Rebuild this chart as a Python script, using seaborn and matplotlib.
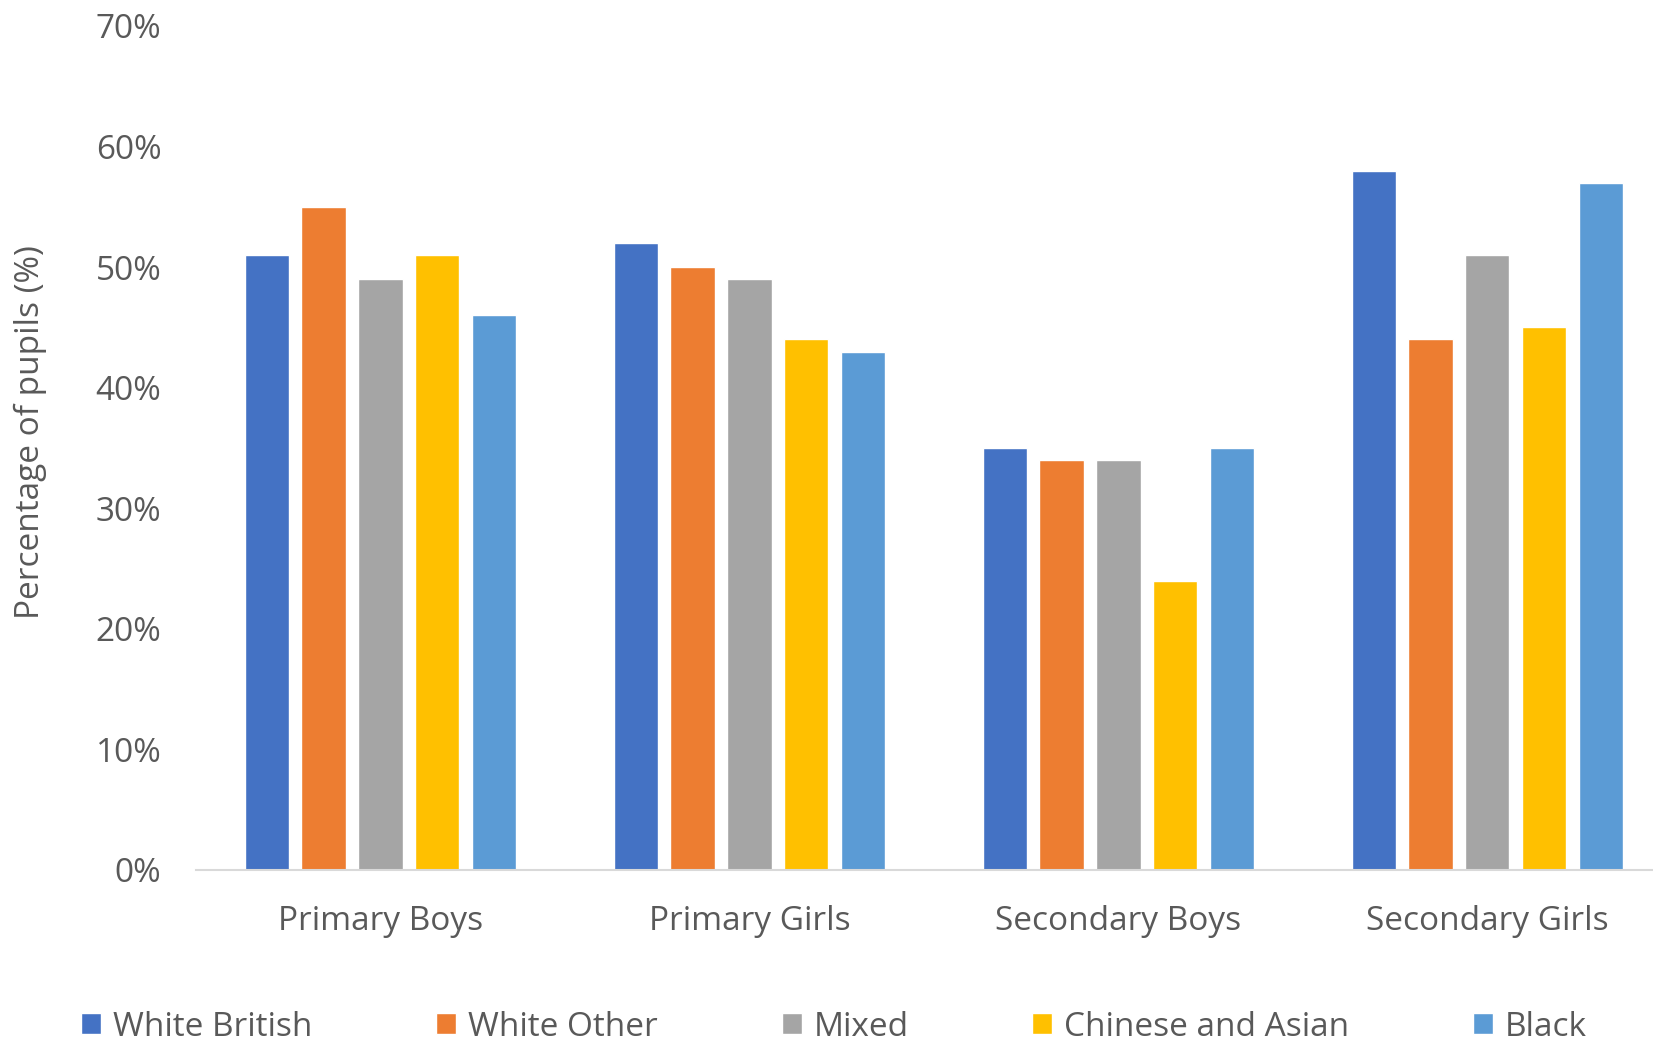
import matplotlib
matplotlib.use("Agg")
import matplotlib.pyplot as plt
import seaborn as sns
import pandas as pd
from matplotlib.ticker import FuncFormatter

# Share of pupils by school phase / sex and ethnic group
categories = ["Primary Boys", "Primary Girls", "Secondary Boys", "Secondary Girls"]
groups = ["White British", "White Other", "Mixed", "Chinese and Asian", "Black"]
white_british = [51, 52, 35, 58]
white_other = [55, 50, 34, 44]
mixed = [49, 49, 34, 51]
chinese_asian = [51, 44, 24, 45]
black = [46, 43, 35, 57]
yticks = [0, 10, 20, 30, 40, 50, 60, 70]

series = [white_british, white_other, mixed, chinese_asian, black]
rows = []
for g, vals in zip(groups, series):
    for c, v in zip(categories, vals):
        rows.append({"Category": c, "Group": g, "Value": v})
df = pd.DataFrame(rows)

palette = ["#4472C4", "#ED7D31", "#A5A5A5", "#FFC000", "#5B9BD5"]
text_color = "#595959"
fs = 24

sns.set_theme(style="white")
plt.rcParams["font.family"] = ["Open Sans", "DejaVu Sans"]

W, H = 1653, 1044
fig = plt.figure(figsize=(W / 100, H / 100), dpi=100)
ax = fig.add_axes([196 / W, 1 - 870 / H, 1 - 196 / W, (870 - 26) / H])

sns.barplot(data=df, x="Category", y="Value", hue="Group", hue_order=groups,
            order=categories, palette=palette, width=0.77, gap=0.22,
            saturation=1, ax=ax, legend=True)

ax.set_xlim(-0.5, 3.449)
ax.set_ylim(0, 70)
ax.set_yticks(yticks)
ax.yaxis.set_major_formatter(FuncFormatter(lambda v, p: f"{int(v)}%"))
ax.set_xlabel("")
ax.set_ylabel("Percentage of pupils (%)", fontsize=fs, color=text_color)
ax.yaxis.set_label_coords(-0.102, 0.519)
ax.tick_params(axis="both", length=0, labelsize=fs, colors=text_color)
ax.tick_params(axis="y", pad=25)
ax.tick_params(axis="x", pad=25)

for s in ["top", "right", "left"]:
    ax.spines[s].set_visible(False)
ax.spines["bottom"].set_color("#D9D9D9")
ax.spines["bottom"].set_linewidth(1.5)

handles, labels = ax.get_legend_handles_labels()
ax.get_legend().remove()
fig.legend(handles, labels, loc="center", bbox_to_anchor=(834 / W, 1 - 1027 / H),
           ncol=5, frameon=False, fontsize=fs, labelcolor=text_color,
           handlelength=0.6, handleheight=0.6, handletextpad=0.35,
           columnspacing=3.72, borderpad=0)

fig.savefig("out.png", dpi=100, facecolor="white")
